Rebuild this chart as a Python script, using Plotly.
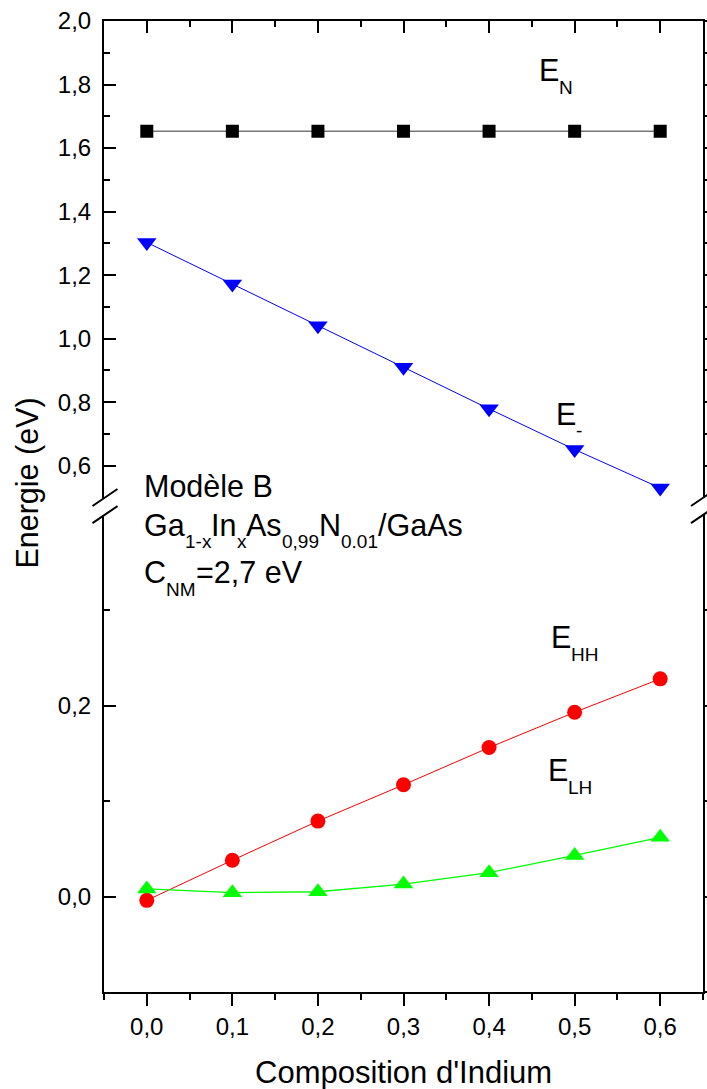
import plotly.graph_objects as go

# ---------------- data ----------------
composition = [0.0, 0.1, 0.2, 0.3, 0.4, 0.5, 0.6]
E_N = [1.653, 1.653, 1.653, 1.653, 1.653, 1.653, 1.653]
E_minus = [1.303, 1.172, 1.041, 0.910, 0.779, 0.651, 0.530]
E_HH = [-0.004, 0.038, 0.079, 0.117, 0.156, 0.193, 0.228]
E_LH = [0.008, 0.004, 0.005, 0.013, 0.025, 0.043, 0.062]

x_ticks = [0.0, 0.1, 0.2, 0.3, 0.4, 0.5, 0.6]
x_minor = [-0.05, 0.05, 0.15, 0.25, 0.35, 0.45, 0.55, 0.65]
y_up_ticks = [0.6, 0.8, 1.0, 1.2, 1.4, 1.6, 1.8, 2.0]
y_up_minor = [0.7, 0.9, 1.1, 1.3, 1.5, 1.7, 1.9]
y_lo_ticks = [0.0, 0.2]
y_lo_minor = [-0.1, 0.1, 0.3]

FONT = "Liberation Sans, Arial, sans-serif"
W, H = 707, 1089
L, R, T, B = 104, 4, 21, 97
PW, PH = W - L - R, H - T - B

def px(xp, yp):
    return (xp - L) / PW, (H - B - yp) / PH

fig = go.Figure()
fig.add_trace(go.Scatter(x=composition, y=E_N, mode="lines+markers", xaxis="x", yaxis="y",
                         line=dict(color="#777777", width=1.5),
                         marker=dict(symbol="square", size=13, color="black")))
fig.add_trace(go.Scatter(x=composition, y=E_minus, mode="lines+markers", xaxis="x", yaxis="y",
                         line=dict(color="#0000ff", width=1),
                         marker=dict(symbol="triangle-down", size=17, color="#0000ff")))
fig.add_trace(go.Scatter(x=composition, y=E_HH, mode="lines+markers", xaxis="x", yaxis="y2",
                         line=dict(color="#ff0000", width=1),
                         marker=dict(symbol="circle", size=15, color="#ff0000")))
fig.add_trace(go.Scatter(x=composition, y=E_LH, mode="lines+markers", xaxis="x", yaxis="y2",
                         line=dict(color="#00ff00", width=1.3),
                         marker=dict(symbol="triangle-up", size=17, color="#00ff00")))

up_bot = px(0, 497.5)[1]
lo_top = px(0, 514.6)[1]

tickfont = dict(family=FONT, size=24, color="black")
common = dict(showgrid=False, zeroline=False, showline=True, linecolor="black", linewidth=2,
              tickcolor="black", tickwidth=2, tickfont=tickfont)

def minor(direction, vals):
    return dict(tickmode="array", tickvals=vals, ticks=direction, ticklen=6,
                tickwidth=2, tickcolor="black")

layout = dict(
    width=W, height=H, margin=dict(l=L, r=R, t=T, b=B, autoexpand=False),
    plot_bgcolor="white", paper_bgcolor="white", showlegend=False,
    separators=", ",
    xaxis=dict(domain=[0, 1], range=[-0.05, 0.65], anchor="y2", side="bottom",
               tickmode="array", tickvals=x_ticks, tickformat=".1f",
               ticks="outside", ticklen=12, minor=minor("outside", x_minor), **common),
    xaxis2=dict(range=[-0.05, 0.65], overlaying="x", anchor="y", side="top",
                tickmode="array", tickvals=x_ticks, showticklabels=False,
                ticks="inside", ticklen=12, minor=minor("inside", x_minor), **common),
    yaxis=dict(domain=[up_bot, 1], range=[0.5, 2.0], anchor="x",
               tickmode="array", tickvals=y_up_ticks, tickformat=".1f",
               ticks="inside", ticklen=12, ticklabelstandoff=6,
               minor=minor("inside", y_up_minor), **common),
    yaxis2=dict(domain=[0, lo_top], range=[-0.1, 0.4], anchor="x",
                tickmode="array", tickvals=y_lo_ticks, tickformat=".1f",
                ticks="inside", ticklen=12, ticklabelstandoff=6,
                minor=minor("inside", y_lo_minor), **common),
    yaxis3=dict(range=[0.5, 2.0], overlaying="y", anchor="x", side="right",
                tickmode="array", tickvals=y_up_ticks, showticklabels=False,
                ticks="outside", ticklen=12, minor=minor("outside", y_up_minor), **common),
    yaxis4=dict(range=[-0.1, 0.4], overlaying="y2", anchor="x", side="right",
                tickmode="array", tickvals=y_lo_ticks, showticklabels=False,
                ticks="outside", ticklen=12, minor=minor("outside", y_lo_minor), **common),
)
fig.update_layout(**layout)

# empty traces so the overlay axes get drawn
fig.add_trace(go.Scatter(x=[None], y=[None], xaxis="x2", yaxis="y", hoverinfo="skip", showlegend=False))
fig.add_trace(go.Scatter(x=[None], y=[None], xaxis="x", yaxis="y3", hoverinfo="skip", showlegend=False))
fig.add_trace(go.Scatter(x=[None], y=[None], xaxis="x", yaxis="y4", hoverinfo="skip", showlegend=False))

annotations = []

def txt(xp, yp, s, size, angle=0, xanchor="left"):
    x, y = px(xp, yp)
    annotations.append(dict(xref="paper", yref="paper", x=x, y=y, text=s, showarrow=False,
                            xanchor=xanchor, yanchor="middle", textangle=angle, borderpad=0,
                            font=dict(family=FONT, size=size, color="black")))

# Arial advance widths (em) to chain main text and subscripts
ADV = {"G": .778, "a": .556, "I": .278, "n": .556, "A": .667, "s": .5, "N": .722, "/": .278,
       "C": .722, "=": .584, "2": .556, ",": .278, "7": .556, " ": .278, "e": .556, "V": .667,
       "1": .556, "-": .333, "x": .5, "0": .556, "9": .556, ".": .278, "M": .833, "E": .667,
       "H": .722, "L": .556}

MAIN, SUB, DSUB = 30.5, 19, 17

def chain(x0, yc, pieces):
    x = x0
    for s, is_sub in pieces:
        size = SUB if is_sub else MAIN
        txt(x, yc + (DSUB if is_sub else 0), s, size)
        x += sum(ADV[c] for c in s) * size

# axis titles
txt(403.5, 1072.6, "Composition d'Indium", 31, xanchor="center")
txt(26.6, 483, "Energie (eV)", 30.5, angle=-90, xanchor="center")

# curve labels
chain(538, 70, [("E", False), ("N", True)])
chain(555, 414, [("E", False), ("-", True)])
chain(550, 637, [("E", False), ("HH", True)])
chain(547, 770, [("E", False), ("LH", True)])

# text block
txt(143, 486, "Modèle B", MAIN)
chain(143, 525, [("Ga", False), ("1-x", True), ("In", False), ("x", True), ("As", False),
                 ("0,99", True), ("N", False), ("0.01", True), ("/GaAs", False)])
chain(143, 572, [("C", False), ("NM", True), ("=2,7 eV", False)])

# axis break marks
shapes = []
for ax_x in (105, 703.5):
    for yb in (497.5, 514.6):
        x0, y0 = px(ax_x - 12.5, yb + 8.5)
        x1, y1 = px(ax_x + 12.5, yb - 8.5)
        shapes.append(dict(type="line", xref="paper", yref="paper", x0=x0, y0=y0, x1=x1, y1=y1,
                           line=dict(color="black", width=2)))

fig.update_layout(annotations=annotations, shapes=shapes)
fig.write_html("out.html", config={"displayModeBar": False},
               post_script="document.body.style.margin='0';document.body.style.overflow='hidden';")
